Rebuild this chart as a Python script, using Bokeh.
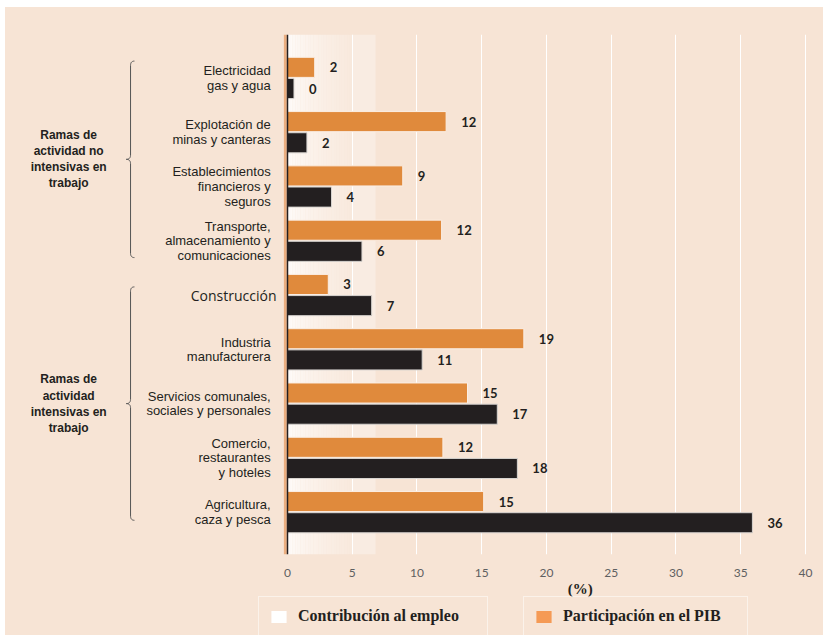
import numpy as np
from bokeh.plotting import figure
from bokeh.models import Range1d, FixedTicker, Span, Label, Legend, LegendItem, Spacer
from bokeh.layouts import column, row
from bokeh.core.properties import value
from bokeh.embed import file_html
from bokeh.resources import INLINE

# ---------------- data ----------------
categories = [
    "Electricidad\ngas y agua",
    "Explotación de\nminas y canteras",
    "Establecimientos\nfinancieros y\nseguros",
    "Transporte,\nalmacenamiento y\ncomunicaciones",
    "Construcción",
    "Industria\nmanufacturera",
    "Servicios comunales,\nsociales y personales",
    "Comercio,\nrestaurantes\ny hoteles",
    "Agricultura,\ncaza y pesca",
]
pib_values = [2.1, 12.25, 8.9, 11.9, 3.15, 18.25, 13.9, 12.0, 15.15]
pib_labels = ["2", "12", "9", "12", "3", "19", "15", "12", "15"]
empleo_values = [0.5, 1.5, 3.4, 5.75, 6.5, 10.4, 16.2, 17.75, 35.9]
empleo_labels = ["0", "2", "4", "6", "7", "11", "17", "18", "36"]
x_ticks = [0, 5, 10, 15, 20, 25, 30, 35, 40]
group_names = ["Ramas de\nactividad no\nintensivas en\ntrabajo",
               "Ramas de\nactividad\nintensivas en\ntrabajo"]
group_first = [0, 4]
group_last = [3, 8]
legend_labels = ["Contribución al empleo", "Participación en el PIB"]
axis_title = "(%)"

# ---------------- style ----------------
BG = "#F7E4D5"
ORANGE = "#E08A3C"
DARK = "#231F20"
SWATCH_ORANGE = "#F59A55"
W = 818

n = len(categories)
pos = np.arange(n)
off = 0.195
bar_h = 0.37
Y_BOTTOM, Y_TOP = 8.78, -0.80

p = figure(width=W, height=572,
           x_range=Range1d(-21.776, 41.39), y_range=Range1d(Y_BOTTOM, Y_TOP),
           output_backend="svg", toolbar_location=None,
           min_border_left=0, min_border_right=0, min_border_top=27, min_border_bottom=24,
           background_fill_color=BG, border_fill_color=BG, outline_line_color=None)

# light gradient near the axis
edges = np.linspace(0, 5, 26)
mids = (edges[:-1] + edges[1:]) / 2
alphas = 1 - 0.8 * np.sqrt(mids / 5)
p.quad(left=edges[:-1], right=edges[1:], top=Y_TOP, bottom=Y_BOTTOM,
       fill_color="white", fill_alpha=alphas, line_color=None)
p.quad(left=5, right=6.8, top=Y_TOP, bottom=Y_BOTTOM,
       fill_color="white", fill_alpha=0.32, line_color=None)

# grid and axis
p.xaxis.ticker = FixedTicker(ticks=x_ticks)
p.xaxis.axis_line_color = None
p.xaxis.major_tick_line_color = None
p.xaxis.minor_tick_line_color = None
p.xaxis.major_label_text_font = "Lato"
p.xaxis.major_label_text_font_size = "12px"
p.xaxis.major_label_text_color = "#5E5F61"
p.xaxis.major_label_standoff = 8
p.xgrid.ticker = FixedTicker(ticks=x_ticks[1:])
p.xgrid.grid_line_color = "white"
p.xgrid.grid_line_width = 1
p.ygrid.visible = False
p.yaxis.visible = False

# axis line with orange edge
p.quad(left=-0.28, right=-0.06, top=Y_TOP, bottom=Y_BOTTOM,
       fill_color="#EBAE80", line_color=None)
p.add_layout(Span(location=0, dimension="height", line_color=DARK, line_width=1.5))

# bars
p.hbar(y=pos - off, left=0, right=pib_values, height=bar_h,
       fill_color=ORANGE, line_color="#FBEEE4", line_width=1)
p.hbar(y=pos + off, left=0, right=empleo_values, height=bar_h,
       fill_color=DARK, line_color="#D8D4D0", line_width=1)

# value labels
lab_kw = dict(x_offset=15, text_baseline="middle", text_align="left",
              text_font=value("Lato"), text_font_size="13px",
              text_font_style="bold", text_color=DARK)
p.text(x=pib_values, y=pos - off, text=pib_labels, **lab_kw)
p.text(x=empleo_values, y=pos + off, text=empleo_labels, **lab_kw)

# category labels (multi-line ones in Arial-like, single-line one in a humanist sans)
multi = [i for i, c in enumerate(categories) if "\n" in c]
single = [i for i, c in enumerate(categories) if "\n" not in c]
p.text(x=-1.3, y=pos[multi], text=[categories[i] for i in multi],
       text_align="right", text_baseline="middle",
       text_font=value("Liberation Sans"), text_font_size="13px",
       text_line_height=0.97, text_color=DARK)
p.text(x=-0.85, y=pos[single], text=[categories[i] for i in single],
       text_align="right", text_baseline="middle",
       text_font=value("Open Sans"), text_font_size="14px", text_color=DARK)

# group labels
g_mid = [(f + l) / 2 for f, l in zip(group_first, group_last)]
p.text(x=-16.9, y=g_mid, text=group_names, text_align="center", text_baseline="middle",
       text_font=value("Liberation Sans"), text_font_size="12px", text_font_style="bold",
       text_line_height=1.15, text_color=DARK)

# braces
def qbez(a, b, c, k=14):
    t = np.linspace(0, 1, k)[:, None]
    a, b, c = map(np.asarray, (a, b, c))
    return (1 - t) ** 2 * a + 2 * (1 - t) * t * b + t ** 2 * c

x_line, x_tip, x_hook, ry = -12.12, -12.45, -11.82, 0.08
brace_pad = [0.31, 0.15]
for f, l, m, pad in zip(group_first, group_last, g_mid, brace_pad):
    yt, yb = f - pad, l + pad
    pts = np.vstack([
        qbez((x_hook, yt), (x_line, yt), (x_line, yt + ry)),
        qbez((x_line, m - ry), (x_line, m), (x_tip, m)),
        qbez((x_tip, m), (x_line, m), (x_line, m + ry)),
        qbez((x_line, yb - ry), (x_line, yb), (x_hook, yb)),
    ])
    p.line(pts[:, 0], pts[:, 1], line_color="#555555", line_width=1)

# ---------------- bottom strip: axis title + legends ----------------
H2 = 56
p2 = figure(width=W, height=H2, x_range=p.x_range, y_range=Range1d(H2, 0),
            output_backend="svg", toolbar_location=None, min_border=0,
            background_fill_color=BG, border_fill_color=BG, outline_line_color=None)
p2.axis.visible = False
p2.grid.visible = False

p2.add_layout(Label(x=22.6, y=9, text=axis_title, text_align="center",
                    text_baseline="middle", text_font="Liberation Serif",
                    text_font_style="bold", text_font_size="15px", text_color=DARK))

# legend-only renderers (NaN data: nothing is drawn in the plot area)
r_emp = p2.quad(left=[np.nan], right=[np.nan], top=[np.nan], bottom=[np.nan],
                fill_color="white", line_color=None)
r_pib = p2.quad(left=[np.nan], right=[np.nan], top=[np.nan], bottom=[np.nan],
                fill_color=SWATCH_ORANGE, line_color=None)
leg_kw = dict(orientation="horizontal", padding=10, spacing=0, margin=0,
              glyph_width=19, glyph_height=15, label_standoff=10,
              border_line_color="white", border_line_width=1.5, background_fill_alpha=0,
              label_text_font="Liberation Serif", label_text_font_style="bold",
              label_text_font_size="16px", label_text_color=DARK)
leg1 = Legend(items=[LegendItem(label=legend_labels[0], renderers=[r_emp])],
              location=(253, -1), label_width=179, **leg_kw)
leg2 = Legend(items=[LegendItem(label=legend_labels[1], renderers=[r_pib])],
              location=(518, -1), label_width=174, **leg_kw)
p2.add_layout(leg1)
p2.add_layout(leg2)

inner = column(p, p2, styles={"background-color": BG})
layout = column(Spacer(width=823, height=7),
                row(Spacer(width=5, height=628), inner))

open("out.html", "w").write(file_html(layout, INLINE))
